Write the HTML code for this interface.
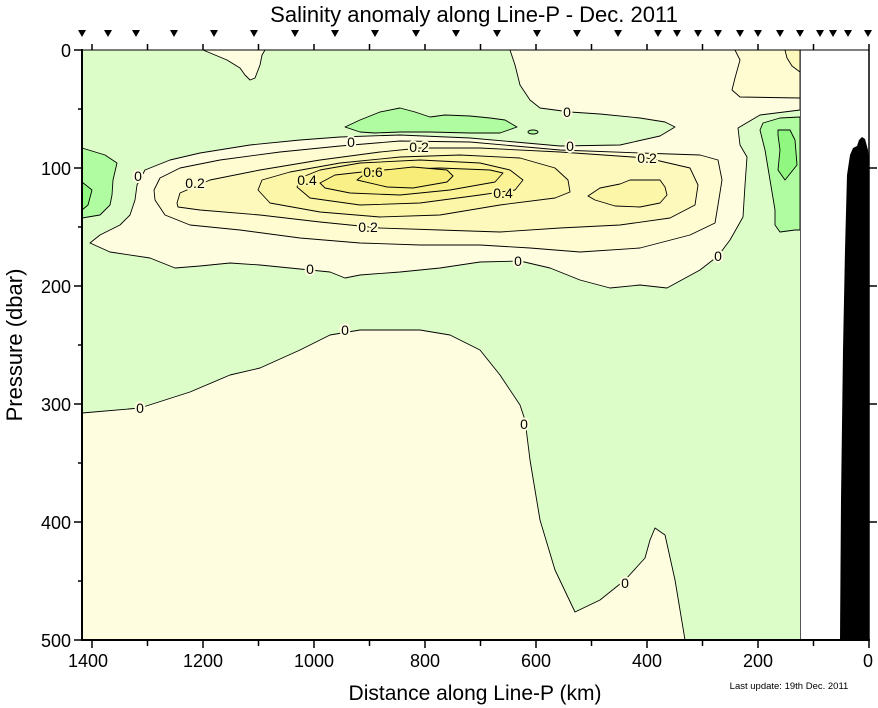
<!DOCTYPE html>
<html><head><meta charset="utf-8"><style>
html,body{margin:0;padding:0;background:#fff}
svg{display:block;font-family:"Liberation Sans",Arial,sans-serif}
.l text{paint-order:stroke;stroke-width:4px}
</style></head><body>
<svg width="878" height="708" viewBox="0 0 878 708" xmlns="http://www.w3.org/2000/svg">
<text x="474" y="22" font-size="22" text-anchor="middle">Salinity anomaly along Line-P - Dec. 2011</text>
<g fill="#000">
<path d="M78,30h8l-4,7z M104,30h8l-4,7z M132,30h8l-4,7z M170,30h8l-4,7z M210,30h8l-4,7z M250,30h8l-4,7z M291,30h8l-4,7z M331,30h8l-4,7z M371,30h8l-4,7z M412,30h8l-4,7z M452,30h8l-4,7z M493,30h8l-4,7z M533,30h8l-4,7z M573,30h8l-4,7z M614,30h8l-4,7z M654,30h8l-4,7z M673,30h8l-4,7z M694,30h8l-4,7z M714,30h8l-4,7z M736,30h8l-4,7z M754,30h8l-4,7z M776,30h8l-4,7z M796,30h8l-4,7z M816,30h8l-4,7z M829,30h8l-4,7z M844,30h8l-4,7z M864,30h8l-4,7z"/>
</g>
<g stroke="#000" stroke-width="0.9" stroke-linejoin="round">
<rect x="82" y="50" width="718" height="590" fill="#dcfcc8" stroke="none"/>
<polygon fill="#fffde0" points="203,50 227,60 240,68 245,75 250,80 255,78 260,65 262,55 265,50"/>
<polygon fill="#fffde0" points="510,50 800,50 800,110 760,115 738,128 740,145 747,157 745,185 743,217 730,240 718,256 700,270 667,288 640,285 610,288 580,280 550,268 520,261 480,262 440,268 400,272 360,275 345,278 330,272 290,268 260,265 230,263 200,266 175,268 150,258 110,252 90,243 100,235 120,225 130,215 135,200 137,185 145,170 170,160 200,153 250,145 300,140 340,137 400,135 470,138 560,146 620,145 660,136 675,127 665,122 640,118 600,114 570,112 540,108 530,100 520,85 515,65"/>
<polygon fill="#fefcd0" points="735,50 800,50 800,98 740,97 732,90 735,78 740,60"/>
<polygon fill="#fdf9bc" points="785,50 800,50 800,72 792,66 787,58"/>
<polygon fill="#fffde0" points="82,413 140,408 190,392 230,375 260,368 300,350 330,335 360,330 420,330 450,335 480,350 500,375 520,405 525,420 530,460 540,520 555,570 575,612 600,600 625,580 645,558 650,540 655,528 665,535 675,580 685,640 82,640"/>
<polygon fill="#b0fca0" points="82,148 105,155 117,163 113,180 112,195 110,205 100,215 82,218"/>
<polygon fill="#90f880" points="82,182 92,190 88,205 82,210"/>
<polygon fill="#b0fca0" points="345,127 360,120 380,112 400,108 415,112 430,117 445,115 470,116 490,118 505,120 517,127 500,133 470,133 430,132 400,132 375,133 360,132"/>
<ellipse cx="533" cy="132" rx="5" ry="2" fill="#b0fca0"/>
<polygon fill="#b0fca0" points="763,123 780,118 800,117 800,230 795,230 780,232 775,225 775,210 770,180 765,150 760,130"/>
<polygon fill="#90f880" points="778,130 790,130 795,140 797,165 785,180 778,170 780,150 778,135"/>
<polygon fill="#fefcd0" points="154,190 160,178 180,168 220,160 280,152 340,146 400,141 470,142 560,150 640,153 700,155 718,160 722,180 718,205 715,223 690,235 640,248 580,252 530,248 480,245 420,245 360,243 300,238 240,230 190,225 165,215 155,200"/>
<polygon fill="#fdf9bc" points="177,203 180,193 210,180 260,170 320,160 380,152 420,148 480,148 560,152 647,158 690,168 698,185 695,205 670,218 620,225 560,228 500,232 440,230 380,228 320,222 260,215 200,210 178,207"/>
<polygon fill="#fcf6a8" points="258,190 262,180 290,172 340,163 400,157 460,155 520,158 555,168 568,180 570,192 555,198 500,205 440,215 380,217 320,212 270,203"/>
<polygon fill="#fcf6a8" points="588,196 600,188 620,184 630,180 660,180 665,187 667,195 660,203 640,207 615,206 595,200"/>
<polygon fill="#fbf396" points="297,187 300,178 320,170 360,163 420,160 480,163 510,170 523,180 515,190 480,195 420,203 360,205 310,198"/>
<polygon fill="#faf088" points="320,183 335,175 380,170 440,168 490,170 503,173 495,182 450,190 400,195 350,193 325,188"/>
<polygon fill="#f8ed78" points="357,180 367,172 413,167 447,170 453,176 447,182 413,188 387,187"/>
</g>
<g class="l" font-size="14" text-anchor="middle">
<text x="138" y="181" stroke="#fffde0">0</text><text x="351" y="147" stroke="#fffde0">0</text><text x="567" y="117" stroke="#fffde0">0</text><text x="570" y="151" stroke="#fffde0">0</text>
<text x="195" y="188" stroke="#fefcd0">0.2</text><text x="419" y="152" stroke="#fefcd0">0.2</text><text x="647" y="163" stroke="#fefcd0">0.2</text><text x="368" y="232" stroke="#fefcd0">0.2</text>
<text x="307" y="185" stroke="#fcf6a8">0.4</text><text x="503" y="198" stroke="#fcf6a8">0.4</text><text x="373" y="177" stroke="#faf088">0.6</text>
<text x="310" y="274" stroke="#fffde0">0</text><text x="518" y="266" stroke="#fffde0">0</text><text x="718" y="261" stroke="#fffde0">0</text>
<text x="345" y="335" stroke="#fffde0">0</text><text x="140" y="413" stroke="#fffde0">0</text><text x="524" y="429" stroke="#fffde0">0</text><text x="625" y="588" stroke="#fffde0">0</text>
</g>
<rect x="800.5" y="50" width="68" height="590" fill="#fff"/>
<line x1="800.5" y1="50" x2="800.5" y2="640" stroke="#555" stroke-width="1"/>
<path d="M840,640 L841,500 L843,350 L845,250 L847,175 L850,155 L853,148 L857,146 L859,140 L862,137 L865,139 L868,150 L869,160 L869,640 Z" fill="#000"/>
<g stroke="#000">
<line x1="82" y1="50" x2="869" y2="50" stroke-width="1"/>
<line x1="82" y1="49" x2="82" y2="641" stroke-width="2"/>
<line x1="81" y1="640" x2="870" y2="640" stroke-width="2"/>
<line x1="869" y1="50" x2="869" y2="640" stroke-width="1.5"/>
<path stroke-width="1.5" d="M74,50H82 M78,109H82 M74,168H82 M78,227H82 M74,286H82 M78,345H82 M74,404H82 M78,463H82 M74,522H82 M78,581H82 M74,640H82
M869,168H877 M869,286H877 M869,404H877 M869,522H877
M92,50V44 M147.5,50V44 M203,50V44 M258.5,50V44 M314,50V44 M369.5,50V44 M425,50V44 M480.5,50V44 M536,50V44 M591.5,50V44 M647,50V44 M702.5,50V44 M758,50V44 M813.5,50V44 M869,50V44
M92,640V648 M147.5,640V646 M203,640V648 M258.5,640V646 M314,640V648 M369.5,640V646 M425,640V648 M480.5,640V646 M536,640V648 M591.5,640V646 M647,640V648 M702.5,640V646 M758,640V648 M813.5,640V646 M869,640V648"/>
</g>
<g font-size="18" text-anchor="end">
<text x="71" y="57">0</text><text x="71" y="175">100</text><text x="71" y="293">200</text><text x="71" y="411">300</text><text x="71" y="529">400</text><text x="71" y="647">500</text>
</g>
<g font-size="18" text-anchor="middle">
<text x="88" y="667">1400</text><text x="203" y="667">1200</text><text x="314" y="667">1000</text><text x="425" y="667">800</text><text x="536" y="667">600</text><text x="647" y="667">400</text><text x="758" y="667">200</text><text x="868" y="667">0</text>
</g>
<text x="475" y="700" font-size="21" text-anchor="middle">Distance along Line-P (km)</text>
<text x="789" y="689" font-size="9.5" text-anchor="middle">Last update: 19th Dec. 2011</text>
<text transform="translate(22,345) rotate(-90)" font-size="22" text-anchor="middle">Pressure (dbar)</text>
</svg>
</body></html>
